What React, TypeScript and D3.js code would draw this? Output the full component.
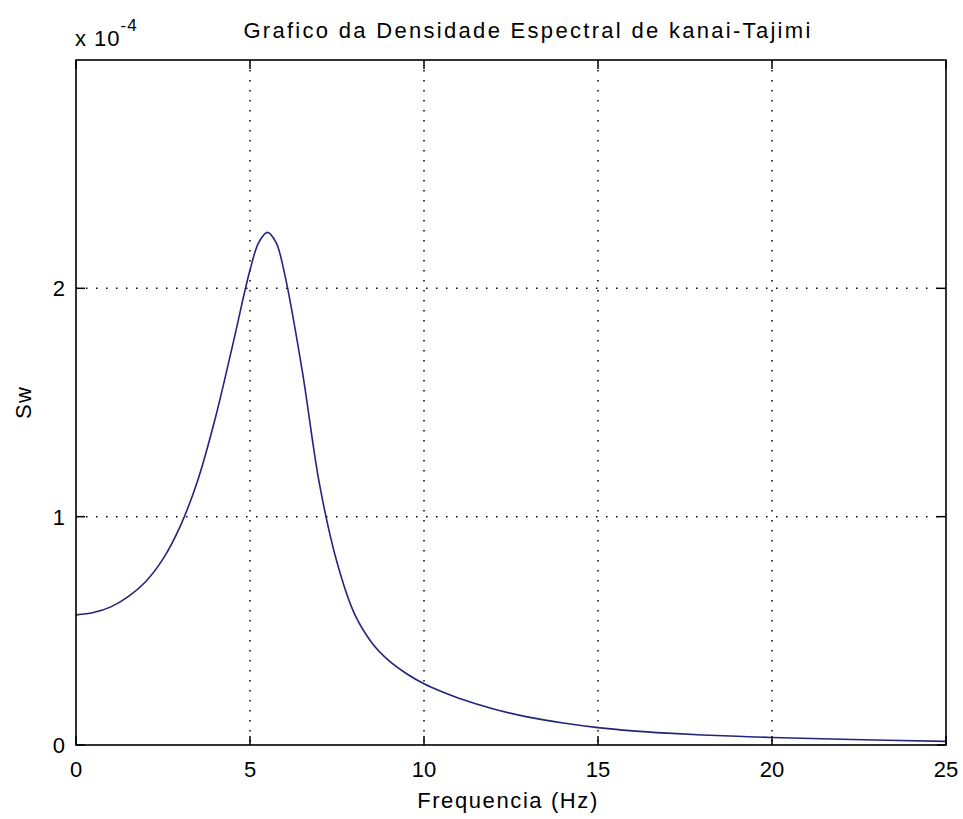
import { useEffect, useRef } from 'react';
import * as d3 from 'd3';

// frequency (Hz) and spectral density (x 1e-4)
const freqHz = [0, 0.5, 1, 1.5, 2, 2.5, 3, 3.5, 4, 4.5, 5, 5.25, 5.5, 5.75, 6, 6.5, 7, 7.5, 8, 8.5, 9, 9.5, 10, 10.5, 11, 12, 13, 14, 15, 16, 17, 18, 19, 20, 22, 25];
const swValues = [0.57, 0.58, 0.605, 0.65, 0.715, 0.815, 0.96, 1.16, 1.43, 1.75, 2.08, 2.2, 2.245, 2.2, 2.06, 1.64, 1.14, 0.8, 0.575, 0.448, 0.368, 0.312, 0.268, 0.234, 0.205, 0.158, 0.122, 0.096, 0.076, 0.062, 0.052, 0.044, 0.038, 0.033, 0.025, 0.016];
const xTicks = [0, 5, 10, 15, 20, 25];
const yTicks = [0, 1, 2];

const W = 963;
const H = 819;
const FONT = '"Liberation Sans", Arial, sans-serif';

export default function App() {
  const svgRef = useRef<SVGSVGElement>(null);

  useEffect(() => {
    if (!svgRef.current) return;
    const margin = { top: 60, right: 17, bottom: 74, left: 76 };
    const innerW = W - margin.left - margin.right;
    const innerH = H - margin.top - margin.bottom;

    const svg = d3.select(svgRef.current);
    svg.selectAll('*').remove();

    const x = d3.scaleLinear().domain([0, 25]).range([0, innerW]);
    const y = d3.scaleLinear().domain([0, 3]).range([innerH, 0]);

    const g = svg.append('g').attr('transform', `translate(${margin.left},${margin.top})`);

    // dotted grid
    g.selectAll('.vgrid')
      .data(xTicks.filter((t) => t > 0 && t < 25))
      .join('line')
      .attr('x1', (d) => x(d)).attr('x2', (d) => x(d))
      .attr('y1', 0).attr('y2', innerH)
      .attr('stroke', '#000').attr('stroke-width', 1.5)
      .attr('stroke-dasharray', '1.5,8.5');
    g.selectAll('.hgrid')
      .data(yTicks.filter((t) => t > 0))
      .join('line')
      .attr('x1', 0).attr('x2', innerW)
      .attr('y1', (d) => y(d)).attr('y2', (d) => y(d))
      .attr('stroke', '#000').attr('stroke-width', 1.5)
      .attr('stroke-dasharray', '1.5,8.5');

    // curve
    const line = d3.line<number>()
      .x((_, i) => x(freqHz[i]))
      .y((d) => y(d))
      .curve(d3.curveCatmullRom.alpha(0.5));
    g.append('path')
      .datum(swValues)
      .attr('d', line)
      .attr('fill', 'none')
      .attr('stroke', '#24247a')
      .attr('stroke-width', 1.6);

    // inward ticks, both sides
    const tl = 9;
    xTicks.forEach((t) => {
      g.append('line').attr('x1', x(t)).attr('x2', x(t)).attr('y1', innerH).attr('y2', innerH - tl).attr('stroke', '#000').attr('stroke-width', 1.5);
      g.append('line').attr('x1', x(t)).attr('x2', x(t)).attr('y1', 0).attr('y2', tl).attr('stroke', '#000').attr('stroke-width', 1.5);
    });
    yTicks.forEach((t) => {
      g.append('line').attr('x1', 0).attr('x2', tl).attr('y1', y(t)).attr('y2', y(t)).attr('stroke', '#000').attr('stroke-width', 1.5);
      g.append('line').attr('x1', innerW).attr('x2', innerW - tl).attr('y1', y(t)).attr('y2', y(t)).attr('stroke', '#000').attr('stroke-width', 1.5);
    });

    // box
    g.append('rect')
      .attr('x', 0).attr('y', 0).attr('width', innerW).attr('height', innerH)
      .attr('fill', 'none').attr('stroke', '#000').attr('stroke-width', 1.6);

    // tick labels
    g.selectAll('.xlab')
      .data(xTicks)
      .join('text')
      .attr('x', (d) => x(d))
      .attr('y', innerH + 32)
      .attr('text-anchor', 'middle')
      .attr('font-size', 22)
      .attr('font-family', FONT)
      .attr('fill', '#000')
      .text((d) => d);
    g.selectAll('.ylab')
      .data(yTicks)
      .join('text')
      .attr('x', -11)
      .attr('y', (d) => y(d))
      .attr('dy', '0.36em')
      .attr('text-anchor', 'end')
      .attr('font-size', 22)
      .attr('font-family', FONT)
      .attr('fill', '#000')
      .text((d) => d);

    // exponent
    const ex = svg.append('text')
      .attr('x', 75).attr('y', 46)
      .attr('font-size', 22).attr('letter-spacing', 1)
      .attr('font-family', FONT).attr('fill', '#000');
    ex.append('tspan').text('x 10');
    ex.append('tspan').attr('dy', -15).attr('font-size', 17).text('-4');

    // title and axis labels
    svg.append('text')
      .attr('x', margin.left + innerW / 2 + 17).attr('y', 38)
      .attr('text-anchor', 'middle')
      .attr('font-size', 22).attr('letter-spacing', 2.3)
      .attr('font-family', FONT).attr('fill', '#000')
      .text('Grafico da Densidade Espectral de kanai-Tajimi');
    svg.append('text')
      .attr('x', margin.left + innerW / 2 - 3).attr('y', 808)
      .attr('text-anchor', 'middle')
      .attr('font-size', 22).attr('letter-spacing', 1.6)
      .attr('font-family', FONT).attr('fill', '#000')
      .text('Frequencia (Hz)');
    svg.append('text')
      .attr('transform', `translate(31,${margin.top + innerH / 2}) rotate(-90)`)
      .attr('text-anchor', 'middle')
      .attr('font-size', 22).attr('letter-spacing', 1.2)
      .attr('font-family', FONT).attr('fill', '#000')
      .text('Sw');
  }, []);

  return (
    <svg
      ref={svgRef}
      width={W}
      height={H}
      style={{ position: 'absolute', left: 0, top: 0, background: '#fff' }}
    />
  );
}
